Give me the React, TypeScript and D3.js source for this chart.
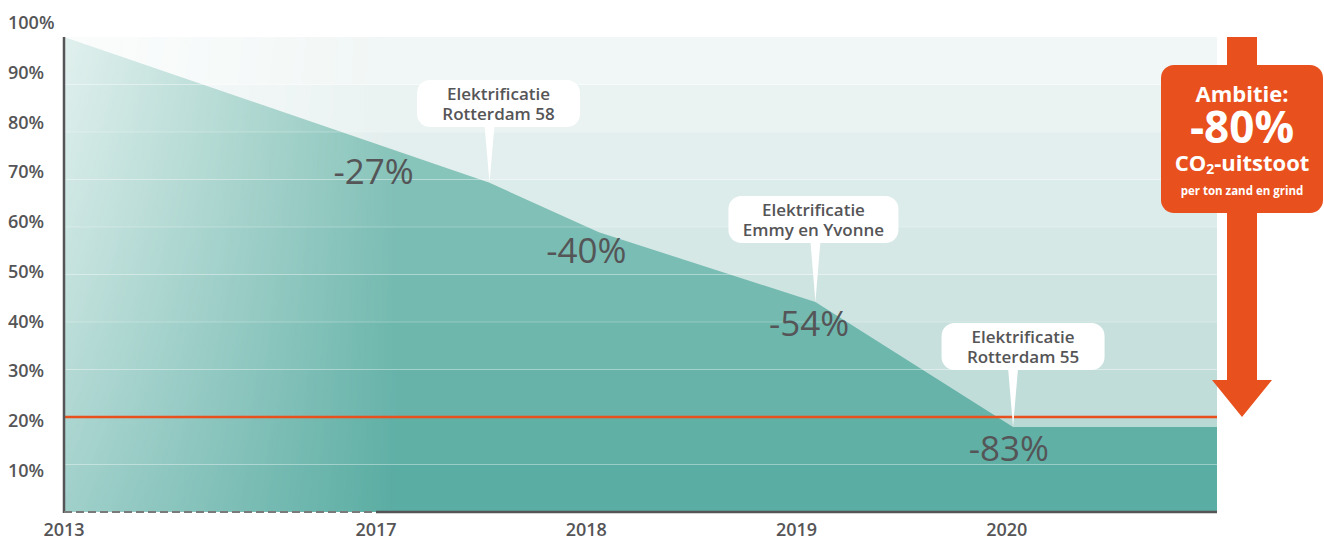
import React from "react";
import * as d3 from "d3";

// ---------- data ----------
const yearTicks = [2013, 2017, 2018, 2019, 2020];
const pathYears = [2013, 2017.54, 2018.06, 2019.09, 2020.03, 2021];
const pathValues = [100, 69.3, 58.9, 44.2, 17.9, 17.9];
const yTickValues = [100, 90, 80, 70, 60, 50, 40, 30, 20, 10];
const bandEdges = [0, 10, 20, 30, 40, 50, 60, 70, 80, 90, 100];
const ambitionLevel = 20;
const pctLabels = ["-27%", "-40%", "-54%", "-83%"];
const pctLabelYears = [2016.97, 2018.0, 2019.06, 2020.01];
const pctLabelValues = [72, 55.2, 40, 13.5];
const calloutLines = [
  ["Elektrificatie", "Rotterdam 58"],
  ["Elektrificatie", "Emmy en Yvonne"],
  ["Elektrificatie", "Rotterdam 55"],
];
const calloutPointIdx = [1, 3, 4];
const calloutDx = [9, -2, 10];
const calloutTop = [80, 196, 323];
const calloutWidth = [163, 170, 163];
const ambitionLines = ["Ambitie:", "-80%", "CO", "2", "-uitstoot", "per ton zand en grind"];

// ---------- layout ----------
const W = 1324;
const H = 540;
const left = 64;
const right = 1217;
const top = 37;
const bottom = 512;
const gray = "#555557";
const orange = "#e8501d";
const font = "'Open Sans', 'Noto Sans', sans-serif";

export default function App() {
  const x = d3.scaleLinear().domain([2013, 2017, 2021]).range([left, 376, right]);
  const y = d3.scaleLinear().domain([0, 100]).range([bottom, top]);
  const yLabel = d3.scaleLinear().domain([10, 100]).range([470, 22]);

  const bgColor = d3.interpolateRgb("#b2d5d1", "#f1f7f6");
  const areaColor = d3.interpolateRgb("#5aada3", "#94cac1");

  const pts = pathYears.map((yr, i) => [yr, pathValues[i]] as [number, number]);
  const area = d3
    .area<[number, number]>()
    .x((d) => x(d[0]))
    .y0(y(0))
    .y1((d) => y(d[1]))(pts) as string;

  const bands = bandEdges.slice(0, -1).map((lo, i) => ({ lo, hi: bandEdges[i + 1], i }));

  // arrow geometry
  const ax = 1242;
  const shaftW = 30;
  const headW = 60;
  const headH = 37;
  const arrowTop = y(100);
  const arrowTip = y(ambitionLevel);
  const arrowPath =
    [
      [ax - shaftW / 2, arrowTop],
      [ax + shaftW / 2, arrowTop],
      [ax + shaftW / 2, arrowTip - headH],
      [ax + headW / 2, arrowTip - headH],
      [ax, arrowTip],
      [ax - headW / 2, arrowTip - headH],
      [ax - shaftW / 2, arrowTip - headH],
    ]
      .map((p, i) => (i ? "L" : "M") + p[0] + "," + p[1])
      .join("") + "Z";

  return (
    <svg
      width={W}
      height={H}
      style={{ position: "absolute", left: 0, top: 0, background: "#fff" }}
      fontFamily={font}
    >
      <defs>
        <clipPath id="areaClip">
          <path d={area} />
        </clipPath>
        <linearGradient id="fadeH" gradientUnits="userSpaceOnUse" x1={left} x2={400} y1={0} y2={0}>
          <stop offset="0" stopColor="#fff" stopOpacity={0.72} />
          <stop offset="1" stopColor="#fff" stopOpacity={0} />
        </linearGradient>
        <linearGradient id="fadeV" gradientUnits="userSpaceOnUse" x1={0} x2={0} y1={top} y2={bottom}>
          <stop offset="0" stopColor="#fff" stopOpacity={1} />
          <stop offset="1" stopColor="#fff" stopOpacity={0.6} />
        </linearGradient>
        <mask id="maskV">
          <rect x={left} y={top} width={right - left} height={bottom - top} fill="url(#fadeV)" />
        </mask>
      </defs>

      {/* background bands */}
      {bands.map((b) => (
        <rect
          key={"bg" + b.i}
          x={left}
          y={y(b.hi)}
          width={right - left}
          height={y(b.lo) - y(b.hi)}
          fill={bgColor(b.i / 9)}
        />
      ))}
      {/* area bands */}
      <g clipPath="url(#areaClip)">
        {bands.map((b) => (
          <rect
            key={"ar" + b.i}
            x={left}
            y={y(b.hi)}
            width={right - left}
            height={y(b.lo) - y(b.hi)}
            fill={areaColor(b.i / 9)}
          />
        ))}
      </g>
      {/* band separators */}
      {bandEdges.slice(1, -1).map((v) => (
        <line
          key={"sep" + v}
          x1={left}
          x2={right}
          y1={y(v)}
          y2={y(v)}
          stroke="#fff"
          strokeOpacity={0.25}
          strokeWidth={1}
        />
      ))}
      {/* left fade */}
      <rect
        x={left}
        y={top}
        width={right - left}
        height={bottom - top}
        fill="url(#fadeH)"
        mask="url(#maskV)"
      />

      {/* ambition line */}
      <line
        x1={left}
        x2={right}
        y1={y(ambitionLevel)}
        y2={y(ambitionLevel)}
        stroke={orange}
        strokeWidth={2.5}
      />

      {/* axes */}
      <line x1={left} x2={left} y1={top} y2={bottom + 1} stroke={gray} strokeWidth={2.5} />
      <line
        x1={left}
        x2={x(2017)}
        y1={bottom}
        y2={bottom}
        stroke="#7a7a7a"
        strokeWidth={2}
        strokeDasharray="8 4"
      />
      <line x1={x(2017)} x2={right} y1={bottom} y2={bottom} stroke={gray} strokeWidth={2.5} />

      {yTickValues.map((v) => (
        <text
          key={"yt" + v}
          x={8}
          y={yLabel(v)}
          dominantBaseline="central"
          fontSize={18}
          fontWeight={600}
          fill={gray}
        >
          {v}%
        </text>
      ))}
      {yearTicks.map((yr) => (
        <text
          key={"xt" + yr}
          x={x(yr)}
          y={536}
          textAnchor="middle"
          fontSize={18}
          fontWeight={600}
          fill={gray}
        >
          {yr}
        </text>
      ))}

      {/* percentage labels */}
      {pctLabels.map((t, i) => (
        <text
          key={"pl" + i}
          x={x(pctLabelYears[i])}
          y={y(pctLabelValues[i])}
          textAnchor="middle"
          dominantBaseline="central"
          fontSize={35}
          fill={gray}
        >
          {t}
        </text>
      ))}

      {/* callouts */}
      {calloutLines.map((lines, i) => {
        const idx = calloutPointIdx[i];
        const tx = x(pathYears[idx]);
        const ty = y(pathValues[idx]);
        const cx = tx + calloutDx[i];
        const w = calloutWidth[i];
        const t0 = calloutTop[i];
        const h = 47;
        return (
          <g key={"co" + i}>
            <path
              d={`M${tx - 5},${t0 + h - 2}L${tx},${ty}L${tx + 5},${t0 + h - 2}Z`}
              fill="#fff"
            />
            <rect x={cx - w / 2} y={t0} width={w} height={h} rx={13} fill="#fff" />
            {lines.map((l, j) => (
              <text
                key={j}
                x={cx}
                y={t0 + 20 + j * 19.5}
                textAnchor="middle"
                fontSize={17}
                fontWeight={600}
                fill={gray}
              >
                {l}
              </text>
            ))}
          </g>
        );
      })}

      {/* ambition arrow */}
      <path d={arrowPath} fill={orange} />
      <rect x={1161} y={65} width={162} height={148} rx={13} fill={orange} />
      <text x={ax} y={102} textAnchor="middle" fontSize={22} fontWeight={700} fill="#fff">
        {ambitionLines[0]}
      </text>
      <text x={ax} y={143} textAnchor="middle" fontSize={44} fontWeight={700} fill="#fff">
        {ambitionLines[1]}
      </text>
      <text x={ax} y={171} textAnchor="middle" fontSize={22} fontWeight={700} fill="#fff">
        {ambitionLines[2]}
        <tspan fontSize={14} dy={3}>
          {ambitionLines[3]}
        </tspan>
        <tspan dy={-3}>{ambitionLines[4]}</tspan>
      </text>
      <text x={ax} y={195} textAnchor="middle" fontSize={11.5} fontWeight={700} fill="#fff">
        {ambitionLines[5]}
      </text>
    </svg>
  );
}
